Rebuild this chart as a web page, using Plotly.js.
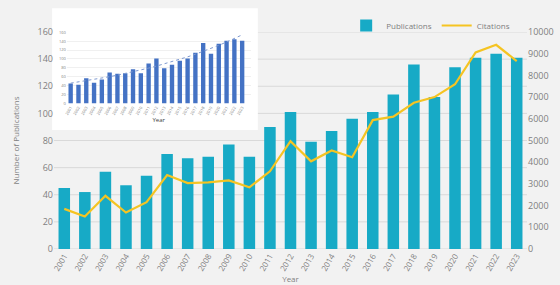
<!DOCTYPE html>
<html><head><meta charset="utf-8">
<script src="https://cdn.plot.ly/plotly-3.0.1.min.js"></script>
<style>html,body{margin:0;padding:0;background:#f2f2f2;}#chart{width:560px;height:285px;}</style>
</head><body><div id="chart"></div>
<script>
var years = ["2001","2002","2003","2004","2005","2006","2007","2008","2009","2010","2011","2012","2013","2014","2015","2016","2017","2018","2019","2020","2021","2022","2023"];
var publications = [45,42,57,47,54,70,67,68,77,68,90,101,79,87,96,101,114,136,112,134,141,144,141];
var citations = [1850,1500,2450,1680,2160,3410,3040,3070,3160,2840,3580,4970,4040,4540,4230,5940,6100,6740,7000,7590,9060,9410,8660];
var leftTicks = [0,20,40,60,80,100,120,140,160];
var rightTicks = [0,1000,2000,3000,4000,5000,6000,7000,8000,9000,10000];
var insetTicks = [0,20,40,60,80,100,120,140,160];
var r2Label = "R² = 0.936";

// exponential trendline fitted to the publication counts
var n = publications.length, sx=0, sy=0, sxx=0, sxy=0;
for (var i=0;i<n;i++){var xi=i+1, yi=Math.log(publications[i]); sx+=xi; sy+=yi; sxx+=xi*xi; sxy+=xi*yi;}
var b = (n*sxy - sx*sy)/(n*sxx - sx*sx), a = (sy - b*sx)/n;
var trend = publications.map(function(_,i){return Math.exp(a + b*(i+1));});

var gray = '#7f7f7f';
var font = 'Open Sans, Roboto, sans-serif';

var traces = [
 {type:'bar', x:years, y:publications, name:'Publications', marker:{color:'#17aac6'}, xaxis:'x', yaxis:'y'},
 {type:'scatter', mode:'lines', x:years, y:citations, name:'Citations', line:{color:'#f5c422', width:2.2}, xaxis:'x', yaxis:'y2'},
 {type:'bar', x:years, y:publications, showlegend:false, marker:{color:'#4472c4'}, xaxis:'x3', yaxis:'y3'},
 {type:'scatter', mode:'lines', x:years, y:trend, showlegend:false, line:{color:'#7f9ad0', width:1, dash:'dot'}, xaxis:'x3', yaxis:'y3', cliponaxis:false}
];

var shapes = leftTicks.map(function(v){
  return {type:'line', layer:'below', xref:'paper', yref:'y', x0:0, x1:1, y0:v, y1:v, line:{color:'#d9d9d9', width:1}};
});
shapes.push({type:'rect', layer:'below', xref:'paper', yref:'paper', x0:-0.004, x1:0.431, y0:0.548, y1:1.11, fillcolor:'#ffffff', line:{width:0}});

var layout = {
 width:560, height:285,
 paper_bgcolor:'#f2f2f2', plot_bgcolor:'rgba(0,0,0,0)',
 margin:{l:54, r:33, t:32, b:36, autoexpand:false},
 font:{family:font, color:gray, size:9},
 bargap:0.44,
 showlegend:true,
 legend:{orientation:'h', x:0.975, xanchor:'right', y:1.03, yanchor:'middle', font:{size:8, color:gray}, bgcolor:'rgba(0,0,0,0)', itemwidth:30, tracegroupgap:0},
 xaxis:{type:'category', domain:[0,1], tickangle:-60, tickfont:{size:8, color:gray}, showgrid:false, zeroline:false, showline:false, ticks:'',
        title:{text:'Year', font:{size:8, color:gray}, standoff:0}},
 yaxis:{range:[0,160], tickvals:leftTicks, showgrid:false, zeroline:false, tickfont:{size:9,color:gray}, ticks:'',
        title:{text:'Number of Publications', font:{size:8,color:gray}, standoff:16}},
 yaxis2:{range:[0,10000], tickvals:rightTicks, tickformat:'d', overlaying:'y', side:'right', showgrid:false, zeroline:false, tickfont:{size:9,color:gray}, ticks:''},
 xaxis3:{type:'category', domain:[0.027,0.416], anchor:'y3', tickangle:-60, tickfont:{size:4, color:gray}, showgrid:false, zeroline:false, ticks:'',
         title:{text:'Year', font:{size:6, color:'#404040'}, standoff:1}},
 yaxis3:{domain:[0.67,0.999], anchor:'x3', range:[0,160], tickvals:insetTicks, showgrid:true, gridcolor:'#e6e6e6', gridwidth:0.6, zeroline:false, tickfont:{size:4,color:gray}, ticks:''},
 shapes:shapes,
 annotations:[{xref:'x3', yref:'y3', x:21.5, y:162, text:r2Label, showarrow:false, font:{size:4.5, color:'#595959'}, xanchor:'center', yanchor:'bottom'}]
};
Plotly.newPlot('chart', traces, layout, {displayModeBar:false, staticPlot:true});
</script></body></html>
